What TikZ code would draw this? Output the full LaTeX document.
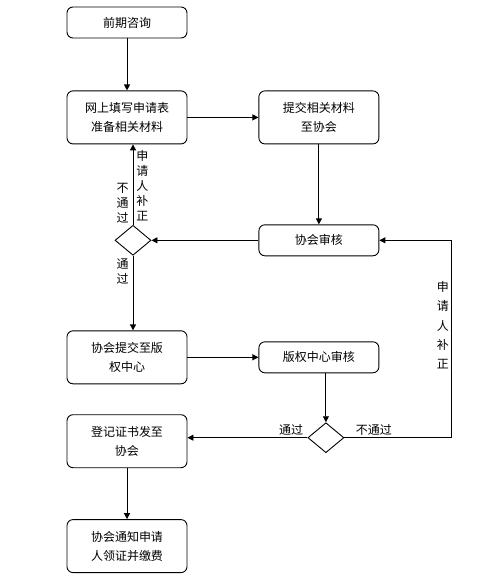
\documentclass[tikz,border=0pt]{standalone}
\usepackage{fontspec}
\newfontfamily\cjk{Noto Sans CJK SC}
\usetikzlibrary{positioning, shapes.geometric, arrows.meta}

\begin{document}
\begin{tikzpicture}[x=1pt, y=1pt, line width=0.9pt,
    box/.style={draw, rounded corners=6pt, minimum width=120pt, align=center, inner sep=0pt, font=\cjk\fontsize{12}{19}\selectfont},
    onebox/.style={box, minimum height=31pt},
    twobox/.style={box, minimum height=53pt},
    choice/.style={draw, diamond, minimum width=36pt, minimum height=30pt, inner sep=0pt},
    vtext/.style={align=center, inner sep=0pt, font=\cjk\fontsize{12}{15}\selectfont},
    widevtext/.style={vtext, font=\cjk\fontsize{12}{19.4}\selectfont},
    htext/.style={inner sep=0pt, font=\cjk\fontsize{12}{15}\selectfont},
    flow/.style={-{Triangle[length=6pt, width=6pt]}}]

    \useasboundingbox (0,0) rectangle (501,-574);

    \node [onebox] (consult) at (127,-22.5) {前期咨询};
    \node [twobox, below=52pt of consult] (online) {网上填写申请表\\准备相关材料};
    \node [twobox, right=71pt of online] (submit) {提交相关材料\\至协会};
    \node [onebox, below=80pt of submit] (assoc) {协会审核};
    \node [choice, left=107pt of assoc] (check1) {};
    \node [twobox, below=186pt of online] (forward) {协会提交至版\\权中心};
    \node [onebox, right=71pt of forward] (center) {版权中心审核};
    \node [choice, below=49pt of center, xshift=7pt] (check2) {};
    \node [twobox, below=30pt of forward] (issue) {登记证书发至\\协会};
    \node [twobox, below=51pt of issue] (notify) {协会通知申请\\人领证并缴费};
    \coordinate [right=107pt of check2.east] (turn);

    \draw [flow] (consult) -- (online);
    \draw [flow] (online) -- (submit);
    \draw [flow] (submit) -- (assoc);
    \draw [flow] (assoc) -- (check1);
    \draw [flow] (check1.north) -- (check1.north |- online.south);
    \draw [flow] (check1.south) -- (check1.south |- forward.north);
    \draw [flow] (forward.east) -- (forward.east -| center.west);
    \draw [flow] (center.south -| check2.north) -- (check2.north);
    \draw [flow] (check2.west) -- (check2.west -| issue.east);
    \draw [flow] (check2.east) -- (turn) |- (assoc.east);
    \draw [flow] (issue) -- (notify);

    % labels
    \node [vtext, above left=1pt and 4pt of check1.north] (fail1) {不\\通\\过};
    \node [vtext, above right=3pt and 3pt of check1.north] (fix1) {申\\请\\人\\补\\正};
    \node [vtext, below left=3pt and 4pt of check1.south] (pass1) {通\\过};
    \node [htext, above left=2pt and 4pt of check2.west] (pass2) {通过};
    \node [htext, above right=2pt and 11pt of check2.east] (fail2) {不通过};
    \node [widevtext, above left=68pt and 2pt of turn] (fix2) {申\\请\\人\\补\\正};
\end{tikzpicture}
\end{document}
